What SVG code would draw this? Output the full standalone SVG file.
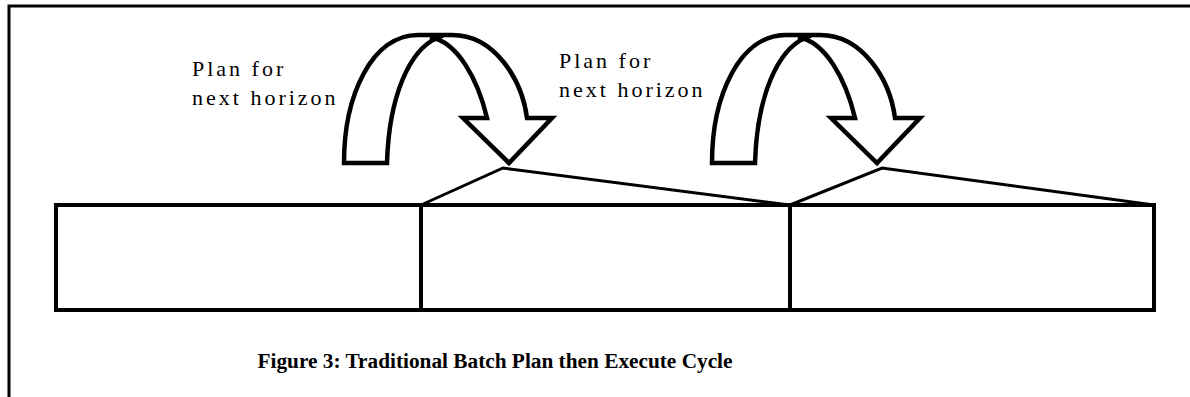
<svg xmlns="http://www.w3.org/2000/svg" xmlns:xlink="http://www.w3.org/1999/xlink" width="1190" height="397" viewBox="0 0 1190 397">
  <style>
    .frame { fill: none; stroke: #000; stroke-width: 3; }
    .box { fill: #fff; stroke: #000; stroke-width: 4; }
    .fan { fill: none; stroke: #000; stroke-width: 3; stroke-linejoin: miter; }
    .curl { fill: #fff; stroke: #000; stroke-width: 4.5; stroke-linejoin: miter; }
    .label { font-family: "Liberation Serif", "Times New Roman", serif; font-size: 22px; letter-spacing: 3px; fill: #000; }
    .caption { font-family: "Liberation Serif", "Times New Roman", serif; font-size: 21.3px; font-weight: bold; fill: #000; }
  </style>
  <defs>
    <!-- curved "plan ahead" block arrow -->
    <path id="curl-shape" d="M344,163 C344,95 372,35 418,35 L452,35 C495,35 522,80 527,118 L552,118 L509,163 L463,118 L487,118 C478,80 458,42 430,37 L437,38 C410,50 389,95 387,163 Z"/>
  </defs>

  <rect width="1190" height="397" fill="#fff"/>

  <!-- page frame -->
  <path class="frame" d="M9,397 L9,6 L1190,6"/>

  <!-- horizon timeline -->
  <g id="horizon-1">
    <rect class="box" x="56" y="205" width="365" height="105"/>
  </g>
  <g id="horizon-2">
    <rect class="box" x="421" y="205" width="369" height="105"/>
  </g>
  <g id="horizon-3">
    <rect class="box" x="790" y="205" width="364" height="105"/>
  </g>

  <g id="connectors">
    <path class="fan" d="M421,205 L503,168 L790,205"/>
    <path class="fan" d="M790,205 L882,168 L1154,205"/>
    <use xlink:href="#curl-shape" class="curl"/>
    <use xlink:href="#curl-shape" class="curl" transform="translate(368,0)"/>
  </g>

  <g id="label-1">
    <text class="label" x="192" y="76">Plan for</text>
    <text class="label" x="192" y="105">next horizon</text>
  </g>
  <g id="label-2">
    <text class="label" x="559" y="68">Plan for</text>
    <text class="label" x="559" y="97">next horizon</text>
  </g>

  <g id="caption">
    <text class="caption" x="495" y="368" text-anchor="middle">Figure 3: Traditional Batch Plan then Execute Cycle</text>
  </g>
</svg>
